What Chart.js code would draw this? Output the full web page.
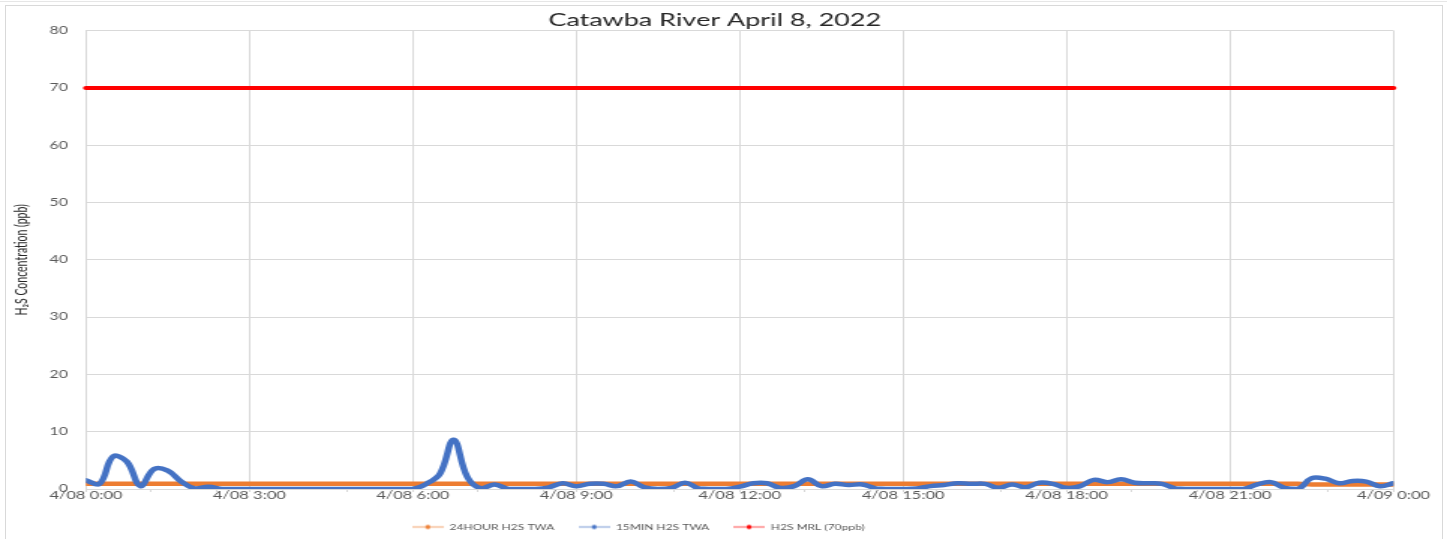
<!DOCTYPE html>
<html>
<head>
<meta charset="utf-8">
<title>Catawba River April 8, 2022</title>
<script src="https://cdn.jsdelivr.net/npm/chart.js@4.4.1/dist/chart.umd.min.js"></script>
<style>
html,body{margin:0;padding:0;background:#fff;overflow:hidden;}
#wrap{position:relative;width:1447px;height:539px;overflow:hidden;}
#c{position:absolute;left:0;top:0;width:1447px;height:539px;}
#frame{position:absolute;left:5px;top:5px;width:1436px;height:545px;border:1px solid #d9d9d9;pointer-events:none;}
#topline{position:absolute;left:0;top:1px;width:1447px;height:0;border-top:1px solid #e6e6e6;pointer-events:none;}
</style>
</head>
<body>
<div id="wrap">
<canvas id="c" width="965" height="539" style="width:1447px;height:539px"></canvas>
<div id="frame"></div>
<div id="topline"></div>
</div>
<script>
// ---------------- data ----------------
const chartTitle = 'Catawba River April 8, 2022';
const yAxisTitle = 'H\u2082S Concentration (ppb)';
const tickLabels = ['4/08 0:00','4/08 3:00','4/08 6:00','4/08 9:00','4/08 12:00','4/08 15:00','4/08 18:00','4/08 21:00','4/09 0:00'];
const seriesNames = ['24HOUR H2S TWA','15MIN H2S TWA','H2S MRL (70ppb)'];

// sample times: minutes after 4/08 0:00, every 15 minutes (categories)
const sampleMinutes = Array.from({length: 97}, (_, i) => i * 15);

// 15-minute H2S TWA (ppb), one row per 3 hours
const twa15min = [
  1.5,0.9,5.7,4.8,0.5,3.5,3.2,1.3,0.1,0.4,0,0,
  0,0,0,0,0,0,0,0,0,0,0,0,
  0,0.9,2.7,8.6,2.1,0.1,0.8,0,0,0,0.3,1.0,
  0.5,0.9,0.9,0.5,1.3,0.3,0,0.2,1.1,0.1,0,0,
  0.4,1.0,1.0,0.2,0.5,1.7,0.5,0.9,0.7,0.8,0.1,0,
  0,0.1,0.5,0.7,1.0,0.9,0.9,0.2,0.8,0.3,1.1,0.9,
  0.2,0.5,1.6,1.2,1.7,1.1,1.0,0.9,0.1,0,0,0,
  0,0,0.8,1.2,0.2,0,1.9,1.8,1.0,1.4,1.3,0.5,
  1.0
];

// 24-hour H2S TWA (ppb)
const twa24hour = [
  0.9,0.9,0.9,0.9,0.9,0.9,0.9,0.9,0.9,0.9,0.9,0.9,
  0.9,0.9,0.9,0.9,0.9,0.9,0.9,0.9,0.9,0.9,0.9,0.9,
  0.9,0.9,0.9,0.9,0.9,0.9,0.9,0.9,0.9,0.9,0.9,0.9,
  0.9,0.9,0.9,0.9,0.9,0.9,0.9,0.9,0.9,0.9,0.9,0.9,
  0.9,0.9,0.9,0.9,0.9,0.9,0.9,0.9,0.9,0.9,0.9,0.9,
  0.9,0.9,0.9,0.9,0.9,0.9,0.9,0.9,0.9,0.9,0.9,0.9,
  0.9,0.9,0.9,0.9,0.9,0.9,0.9,0.9,0.9,0.9,0.9,0.9,
  0.9,0.9,0.9,0.9,0.9,0.9,0.8,0.8,0.8,0.8,0.8,0.8,
  0.8
];

// MRL reference level (ppb)
const mrlMinutes = [0, 1440];
const mrlValues = [70, 70];

// ---------------- chart ----------------
const SX = 1.5; // horizontal stretch of the canvas (page px per canvas px)
const colors = ['#ED7D31', '#4472C4', '#FF0000'];
const FONT = 'Lato, "Open Sans", "Liberation Sans", sans-serif';

function legendIcon(color) {
  const c = document.createElement('canvas');
  c.width = 21; c.height = 7;
  const g = c.getContext('2d');
  g.globalAlpha = 0.55;
  g.strokeStyle = color;
  g.lineWidth = 1.4;
  g.beginPath(); g.moveTo(0, 3.5); g.lineTo(21, 3.5); g.stroke();
  g.globalAlpha = 1;
  g.fillStyle = color;
  g.beginPath(); g.ellipse(10.5, 3.5, 1.5, 2.2, 0, 0, Math.PI * 2); g.fill();
  return c;
}
const icons = colors.map(legendIcon);

const toPoints = (xs, ys) => xs.map((x, i) => ({x: x, y: ys[i]}));

const gridColor = '#d9d9d9';
const clear = 'rgba(0,0,0,0)';

// move the legend row to where the reference has it
const legendShift = {
  id: 'legendShift',
  afterLayout(chart) {
    const l = chart.legend;
    if (!l) return;
    l.left -= 51; l.right -= 51;
    l.top += 2; l.bottom += 2;
  }
};

new Chart(document.getElementById('c'), {
  type: 'line',
  plugins: [legendShift],
  data: {
    datasets: [
      {
        label: seriesNames[0],
        data: toPoints(sampleMinutes, twa24hour),
        borderColor: colors[0], backgroundColor: colors[0],
        borderWidth: 4.5, pointRadius: 0, tension: 0.4,
        borderCapStyle: 'round', borderJoinStyle: 'round',
        order: 1
      },
      {
        label: seriesNames[1],
        data: toPoints(sampleMinutes, twa15min),
        borderColor: colors[1], backgroundColor: colors[1],
        borderWidth: 4.5, pointRadius: 0, tension: 0.4,
        borderCapStyle: 'round', borderJoinStyle: 'round',
        order: 0
      },
      {
        label: seriesNames[2],
        data: toPoints(mrlMinutes, mrlValues),
        borderColor: colors[2], backgroundColor: colors[2],
        borderWidth: 4, pointRadius: 0, tension: 0,
        borderCapStyle: 'round', clip: false,
        order: 2
      }
    ]
  },
  options: {
    responsive: false,
    animation: false,
    devicePixelRatio: 1,
    layout: { padding: { left: 0, right: 11.7, top: 0, bottom: 0 } },
    plugins: {
      tooltip: { enabled: false },
      title: {
        display: true,
        text: chartTitle,
        color: '#262626',
        font: { family: FONT, size: 18, weight: 'normal' },
        padding: { top: 9, bottom: 0 }
      },
      legend: {
        position: 'bottom',
        labels: {
          usePointStyle: true,
          pointStyleWidth: 21,
          boxHeight: 7,
          padding: 16,
          color: '#595959',
          font: { family: FONT, size: 8 },
          generateLabels(chart) {
            const items = Chart.defaults.plugins.legend.labels.generateLabels(chart);
            items.forEach(it => { it.pointStyle = icons[it.datasetIndex]; });
            return items;
          },
          sort: (a, b) => a.datasetIndex - b.datasetIndex
        }
      }
    },
    scales: {
      x: {
        type: 'linear',
        min: 0, max: 1440,
        ticks: {
          stepSize: 36,
          autoSkip: false,
          maxRotation: 0,
          padding: -3,
          color: '#595959',
          font: { family: FONT, size: 11 },
          callback: (v) => (v % 180 === 0 ? tickLabels[v / 180] : '')
        },
        grid: {
          color: (c) => (c.tick && c.tick.value % 180 === 0 ? gridColor : clear),
          tickColor: (c) => (c.tick && (c.tick.value % 72 === 0 || c.tick.value % 180 === 0) ? gridColor : clear),
          tickLength: 3,
          lineWidth: 1
        },
        border: { color: gridColor, width: 1 },
        afterFit(s) { s.paddingRight = 35.7; s.paddingLeft = 0; s.height = 16; }
      },
      y: {
        min: 0, max: 80,
        ticks: {
          stepSize: 10,
          padding: 12,
          color: '#595959',
          font: { family: FONT, size: 10.5 }
        },
        grid: { color: gridColor, drawTicks: false, lineWidth: 1 },
        border: { display: false },
        title: {
          display: true,
          text: yAxisTitle,
          color: '#262626',
          font: { family: FONT, size: 10.5 },
          padding: { top: 8.4, bottom: 0 }
        },
        afterFit(s) { s.width = 57.3; }
      }
    }
  }
});
</script>
</body>
</html>
